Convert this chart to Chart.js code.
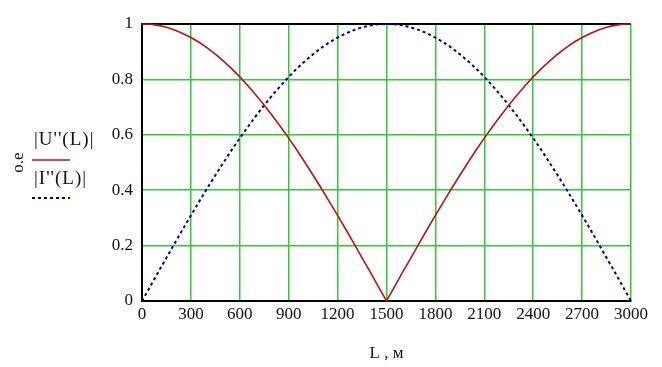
<!DOCTYPE html>
<html>
<head>
<meta charset="utf-8">
<script src="https://cdn.jsdelivr.net/npm/chart.js@4.4.0/dist/chart.umd.min.js"></script>
<style>
    body { margin: 0; background: #ffffff; }
    #caixa { width: 662px; height: 367px; }
</style>
</head>
<body>
<div id="caixa"><canvas id="grafico" width="662" height="367"></canvas></div>
<script>
// distancia ao longo da linha, m (passo de 50 m)
const distancias = [0, 50, 100, 150, 200, 250, 300, 350, 400, 450, 500, 550, 600, 650, 700, 750,
    800, 850, 900, 950, 1000, 1050, 1100, 1150, 1200, 1250, 1300, 1350, 1400, 1450, 1500,
    1550, 1600, 1650, 1700, 1750, 1800, 1850, 1900, 1950, 2000, 2050, 2100, 2150, 2200, 2250,
    2300, 2350, 2400, 2450, 2500, 2550, 2600, 2650, 2700, 2750, 2800, 2850, 2900, 2950, 3000];
// |U''(L)|
const tensao = [1, 0.999, 0.995, 0.988, 0.978, 0.966, 0.951, 0.934, 0.914, 0.891, 0.866, 0.839,
    0.809, 0.777, 0.743, 0.707, 0.669, 0.629, 0.588, 0.545, 0.5, 0.454, 0.407, 0.358, 0.309,
    0.259, 0.208, 0.156, 0.105, 0.052, 0,
    0.052, 0.105, 0.156, 0.208, 0.259, 0.309, 0.358, 0.407, 0.454, 0.5, 0.545, 0.588, 0.629,
    0.669, 0.707, 0.743, 0.777, 0.809, 0.839, 0.866, 0.891, 0.914, 0.934, 0.951, 0.966, 0.978,
    0.988, 0.995, 0.999, 1];
// |I''(L)|
const corrente = [0, 0.052, 0.105, 0.156, 0.208, 0.259, 0.309, 0.358, 0.407, 0.454, 0.5, 0.545,
    0.588, 0.629, 0.669, 0.707, 0.743, 0.777, 0.809, 0.839, 0.866, 0.891, 0.914, 0.934, 0.951,
    0.966, 0.978, 0.988, 0.995, 0.999, 1,
    0.999, 0.995, 0.988, 0.978, 0.966, 0.951, 0.934, 0.914, 0.891, 0.866, 0.839, 0.809, 0.777,
    0.743, 0.707, 0.669, 0.629, 0.588, 0.545, 0.5, 0.454, 0.407, 0.358, 0.309, 0.259, 0.208,
    0.156, 0.105, 0.052, 0];
const ticksX = [0, 300, 600, 900, 1200, 1500, 1800, 2100, 2400, 2700, 3000];
const ticksY = [0, 0.2, 0.4, 0.6, 0.8, 1];

const fonte = "'Liberation Serif', 'Times New Roman', serif";
const verde = '#2fcc2f';
const vermelho = '#b81414';
const azul = '#000080';

// legenda a esquerda, como no Mathcad
const legendaMathcad = {
    id: 'legendaMathcad',
    afterDraw(chart) {
        const ctx = chart.ctx;
        ctx.save();
        ctx.fillStyle = '#111';
        ctx.font = '19px ' + fonte;
        ctx.letterSpacing = '1px';
        ctx.textBaseline = 'middle';
        ctx.textAlign = 'left';
        ctx.fillText("|U''(L)|", 34, 140);
        ctx.fillText("|I''(L)|", 34, 179);
        ctx.strokeStyle = vermelho;
        ctx.lineWidth = 1.5;
        ctx.beginPath();
        ctx.moveTo(32, 160);
        ctx.lineTo(70, 160);
        ctx.stroke();
        ctx.strokeStyle = azul;
        ctx.lineWidth = 2;
        ctx.setLineDash([3, 3]);
        ctx.beginPath();
        ctx.moveTo(32, 198);
        ctx.lineTo(70, 198);
        ctx.stroke();
        ctx.restore();
    }
};

const pontos = (valores) => distancias.map((d, i) => ({ x: d, y: valores[i] }));

const config = {
    type: 'line',
    data: {
        datasets: [{
            label: "|U''(L)|",
            data: pontos(tensao),
            borderColor: vermelho,
            borderWidth: 1.6,
            pointRadius: 0,
            fill: false,
            tension: 0,
            clip: 4
        }, {
            label: "|I''(L)|",
            data: pontos(corrente),
            borderColor: azul,
            borderWidth: 2,
            borderDash: [3, 3],
            pointRadius: 0,
            fill: false,
            tension: 0,
            clip: 4
        }]
    },
    options: {
        responsive: false,
        animation: false,
        layout: { padding: { left: 0, top: 24, right: 31, bottom: 0 } },
        plugins: {
            legend: { display: false },
            tooltip: { enabled: false }
        },
        scales: {
            x: {
                type: 'linear',
                min: 0,
                max: 3000,
                afterFit: (escala) => { escala.height = 66; },
                afterBuildTicks: (escala) => { escala.ticks = ticksX.map(v => ({ value: v })); },
                ticks: {
                    color: '#111',
                    font: { family: fonte, size: 17 },
                    padding: 3,
                    maxRotation: 0,
                    autoSkip: false,
                    callback: (v) => String(v)
                },
                grid: {
                    color: verde,
                    lineWidth: 1.5,
                    drawTicks: false
                },
                border: { color: '#000', width: 2 },
                title: {
                    display: true,
                    text: 'L , м',
                    color: '#111',
                    font: { family: fonte, size: 17 },
                    padding: { top: 7, bottom: 3 }
                }
            },
            y: {
                min: 0,
                max: 1,
                afterFit: (escala) => { escala.width = 142; },
                afterBuildTicks: (escala) => { escala.ticks = ticksY.map(v => ({ value: v })); },
                ticks: {
                    color: '#111',
                    font: { family: fonte, size: 17 },
                    padding: 9,
                    callback: (v) => String(v)
                },
                grid: {
                    color: (c) => (c.tick && c.tick.value === 1 ? '#000' : verde),
                    lineWidth: (c) => (c.tick && c.tick.value === 1 ? 2 : 1.5),
                    drawTicks: false
                },
                border: { color: '#000', width: 2 },
                title: {
                    display: true,
                    text: 'o.e',
                    color: '#111',
                    font: { family: fonte, size: 17 },
                    padding: { top: 8, bottom: 0 }
                }
            }
        }
    },
    plugins: [legendaMathcad]
};

new Chart(document.getElementById('grafico'), config);
</script>
</body>
</html>
